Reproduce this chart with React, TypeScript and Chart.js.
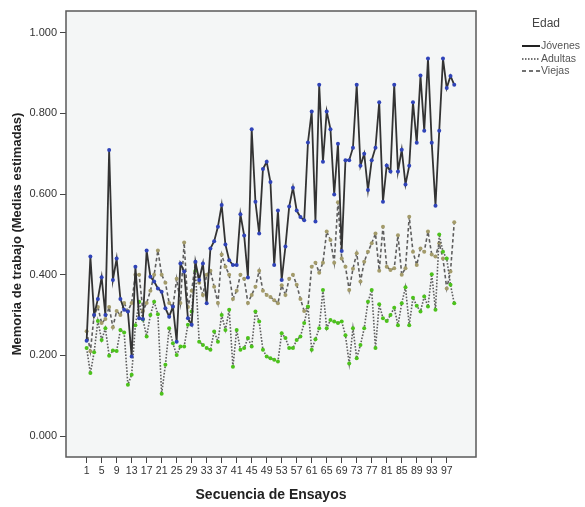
import React, { useEffect, useRef } from 'react';
import { Chart, registerables } from 'chart.js';

Chart.register(...registerables);

const trials: number[] = Array.from({ length: 99 }, (_, i) => i + 1);
const xTickValues: number[] = [1, 5, 9, 13, 17, 21, 25, 29, 33, 37, 41, 45, 49, 53, 57, 61, 65, 69, 73, 77, 81, 85, 89, 93, 97];
const yTickValues: number[] = [0, 0.2, 0.4, 0.6, 0.8, 1.0];

const seriesNames: string[] = ['Jóvenes', 'Adultas', 'Viejas'];

const jovenes: number[] = [
  0.236, 0.445, 0.30, 0.34, 0.394, 0.30, 0.709, 0.387, 0.44, 0.34,
  0.313, 0.309, 0.197, 0.42, 0.292, 0.29, 0.46, 0.395, 0.383, 0.366,
  0.358, 0.317, 0.296, 0.321, 0.234, 0.428, 0.408, 0.292, 0.276, 0.432,
  0.387, 0.428, 0.329, 0.465, 0.483, 0.519, 0.573, 0.475, 0.436, 0.424,
  0.424, 0.55, 0.497, 0.393, 0.761, 0.581, 0.502, 0.662, 0.68, 0.63,
  0.424, 0.559, 0.387, 0.47, 0.569, 0.616, 0.559, 0.543, 0.535, 0.728,
  0.805, 0.532, 0.871, 0.68, 0.805, 0.761, 0.599, 0.725, 0.459, 0.684,
  0.684, 0.715, 0.871, 0.67, 0.70, 0.61, 0.684, 0.715, 0.828, 0.581,
  0.671, 0.656, 0.871, 0.656, 0.71, 0.624, 0.67, 0.828, 0.727, 0.894,
  0.757, 0.936, 0.727, 0.571, 0.757, 0.936, 0.863, 0.893, 0.871,
];

const adultas: number[] = [
  0.218, 0.156, 0.208, 0.285, 0.238, 0.267, 0.199, 0.212, 0.211, 0.263,
  0.257, 0.127, 0.152, 0.275, 0.333, 0.289, 0.247, 0.30, 0.333, 0.302,
  0.105, 0.177, 0.267, 0.23, 0.201, 0.222, 0.222, 0.276, 0.309, 0.41,
  0.234, 0.226, 0.218, 0.214, 0.259, 0.234, 0.30, 0.263, 0.313, 0.172,
  0.263, 0.214, 0.218, 0.243, 0.222, 0.309, 0.284, 0.214, 0.197, 0.193,
  0.189, 0.185, 0.255, 0.243, 0.218, 0.218, 0.238, 0.247, 0.28, 0.321,
  0.214, 0.24, 0.267, 0.362, 0.267, 0.288, 0.284, 0.28, 0.284, 0.25,
  0.18, 0.267, 0.193, 0.226, 0.267, 0.333, 0.362, 0.218, 0.327, 0.292,
  0.285, 0.30, 0.318, 0.275, 0.329, 0.369, 0.275, 0.343, 0.323, 0.309,
  0.346, 0.321, 0.401, 0.313, 0.50, 0.457, 0.44, 0.375, 0.329,
];

const viejas: number[] = [
  0.26, 0.21, 0.30, 0.32, 0.28, 0.29, 0.32, 0.27, 0.31, 0.30,
  0.33, 0.31, 0.33, 0.40, 0.40, 0.31, 0.33, 0.36, 0.40, 0.46,
  0.40, 0.38, 0.33, 0.32, 0.39, 0.33, 0.48, 0.32, 0.36, 0.43,
  0.38, 0.35, 0.40, 0.41, 0.37, 0.33, 0.45, 0.42, 0.40, 0.34,
  0.36, 0.40, 0.39, 0.33, 0.35, 0.37, 0.41, 0.36, 0.35, 0.345,
  0.337, 0.329, 0.374, 0.35, 0.39, 0.40, 0.375, 0.34, 0.31, 0.32,
  0.42, 0.43, 0.405, 0.43, 0.507, 0.486, 0.43, 0.58, 0.44, 0.42,
  0.362, 0.415, 0.453, 0.383, 0.432, 0.457, 0.478, 0.502, 0.41, 0.519,
  0.42, 0.412, 0.416, 0.498, 0.40, 0.416, 0.544, 0.457, 0.424, 0.465,
  0.457, 0.507, 0.45, 0.445, 0.478, 0.44, 0.366, 0.408, 0.53,
];

const FONT = '"Liberation Sans", Arial, sans-serif';

const framePlugin = {
  id: 'frame',
  beforeDraw(chart: any) {
    const { ctx, chartArea: a } = chart;
    ctx.save();
    ctx.fillStyle = '#ffffff';
    ctx.fillRect(0, 0, chart.width, chart.height);
    ctx.fillStyle = '#f4f6f6';
    ctx.fillRect(a.left, a.top, a.right - a.left, a.bottom - a.top);
    ctx.restore();
  },
  afterDatasetsDraw(chart: any) {
    const { ctx, chartArea: a } = chart;
    ctx.save();
    ctx.strokeStyle = '#5a5a5a';
    ctx.lineWidth = 1.5;
    ctx.strokeRect(a.left, a.top, a.right - a.left, a.bottom - a.top);
    ctx.restore();
  },
  afterDraw(chart: any) {
    const { ctx } = chart;
    ctx.save();
    ctx.fillStyle = '#444444';
    ctx.font = `12px ${FONT}`;
    ctx.textAlign = 'center';
    ctx.textBaseline = 'middle';
    ctx.fillText('Edad', 546, 24);
    const styles = [
      { dash: [] as number[], width: 2, color: '#222222' },
      { dash: [1.5, 1.5], width: 1.5, color: '#444444' },
      { dash: [4, 3], width: 1.5, color: '#444444' },
    ];
    const ys = [46, 59, 71];
    ctx.font = `10.5px ${FONT}`;
    ctx.textAlign = 'left';
    seriesNames.forEach((name, i) => {
      const s = styles[i];
      ctx.beginPath();
      ctx.setLineDash(s.dash);
      ctx.lineWidth = s.width;
      ctx.strokeStyle = s.color;
      ctx.moveTo(522, ys[i]);
      ctx.lineTo(540, ys[i]);
      ctx.stroke();
      ctx.setLineDash([]);
      ctx.fillStyle = '#555555';
      ctx.fillText(name, 541, ys[i] + 0.5);
    });
    ctx.restore();
  },
};

export default function App() {
  const ref = useRef<HTMLCanvasElement | null>(null);
  useEffect(() => {
    if (!ref.current) return;
    const mk = (arr: number[]) => trials.map((t, i) => ({ x: t, y: arr[i] }));
    const chart = new Chart(ref.current, {
      type: 'line',
      data: {
        datasets: [
          {
            label: seriesNames[0],
            data: mk(jovenes),
            borderColor: '#333333',
            borderWidth: 1.8,
            pointRadius: 2,
            pointBackgroundColor: '#2f43b8',
            pointBorderColor: '#2f43b8',
            pointBorderWidth: 0,
            tension: 0,
          },
          {
            label: seriesNames[1],
            data: mk(adultas),
            borderColor: '#5e5e5e',
            borderWidth: 1.6,
            borderDash: [1.6, 1.6],
            pointRadius: 2,
            pointBackgroundColor: '#4cc21c',
            pointBorderColor: '#4cc21c',
            pointBorderWidth: 0,
            tension: 0,
          },
          {
            label: seriesNames[2],
            data: mk(viejas),
            borderColor: '#5e5e5e',
            borderWidth: 1.6,
            borderDash: [3.5, 2.5],
            pointRadius: 2,
            pointBackgroundColor: '#a39b6a',
            pointBorderColor: '#a39b6a',
            pointBorderWidth: 0,
            tension: 0,
          },
        ],
      },
      options: {
        responsive: false,
        animation: false,
        events: [],
        layout: { padding: { left: 0, right: 109, top: 11, bottom: 0 } },
        plugins: { legend: { display: false }, tooltip: { enabled: false }, title: { display: false } },
        scales: {
          x: {
            type: 'linear',
            min: -4.5,
            max: 104.8,
            afterBuildTicks: (s: any) => { s.ticks = xTickValues.map((v) => ({ value: v })); },
            afterFit: (s: any) => { s.height = 50; },
            grid: { drawOnChartArea: false, drawTicks: true, tickLength: 6, color: '#444444', lineWidth: 1 },
            border: { display: false },
            ticks: {
              autoSkip: false,
              maxRotation: 0,
              minRotation: 0,
              padding: 2,
              color: '#333333',
              font: { family: FONT, size: 10.5 },
              callback: (v: any) => String(v),
            },
            title: {
              display: true,
              text: 'Secuencia de Ensayos',
              color: '#222222',
              font: { family: FONT, size: 14, weight: 'bold' },
              padding: { top: 0, bottom: 3 },
            },
          },
          y: {
            type: 'linear',
            min: -0.052,
            max: 1.054,
            afterBuildTicks: (s: any) => { s.ticks = yTickValues.map((v) => ({ value: v })); },
            afterFit: (s: any) => { s.width = 66; },
            grid: { drawOnChartArea: false, drawTicks: true, tickLength: 6, color: '#444444', lineWidth: 1 },
            border: { display: false },
            ticks: {
              padding: 3,
              color: '#333333',
              font: { family: FONT, size: 11 },
              callback: (v: any) => Number(v).toFixed(3),
            },
            title: {
              display: true,
              text: 'Memoria de trabajo (Medias estimadas)',
              color: '#222222',
              font: { family: FONT, size: 13, weight: 'bold' },
              padding: { top: 10, bottom: 0 },
            },
          },
        },
      },
      plugins: [framePlugin],
    } as any);
    return () => chart.destroy();
  }, []);
  return (
    <div style={{ position: 'absolute', left: 0, top: 0, width: 585, height: 507, background: '#ffffff' }}>
      <canvas ref={ref} width={585} height={507} style={{ display: 'block' }} />
    </div>
  );
}
